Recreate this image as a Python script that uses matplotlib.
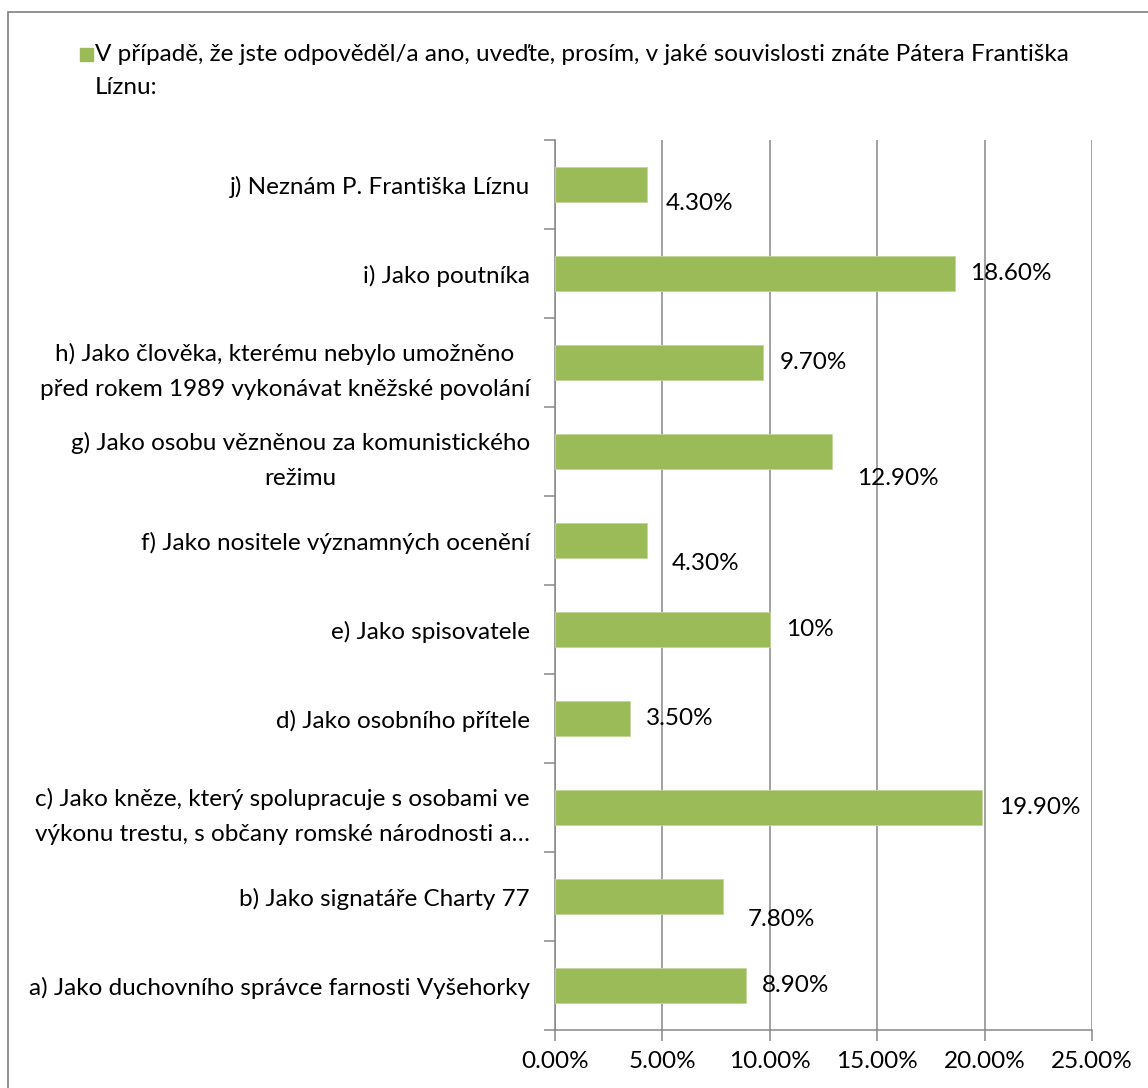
import matplotlib
matplotlib.use('Agg')
import matplotlib.pyplot as plt
from matplotlib.patches import Rectangle
from matplotlib.ticker import FuncFormatter, FixedLocator

plt.rcParams['font.family'] = ['Lato', 'DejaVu Sans']

# answers, bottom (a) to top (j)
categories = [
    'a) Jako duchovního správce farnosti Vyšehorky',
    'b) Jako signatáře Charty 77',
    'c) Jako kněze, který spolupracuje s osobami ve\nvýkonu trestu, s občany romské národnosti a…',
    'd) Jako osobního přítele',
    'e) Jako spisovatele',
    'f) Jako nositele významných ocenění',
    'g) Jako osobu vězněnou za komunistického\nrežimu',
    'h) Jako člověka, kterému nebylo umožněno\npřed rokem 1989 vykonávat kněžské povolání',
    'i) Jako poutníka',
    'j) Neznám P. Františka Líznu',
]
shares = [8.9, 7.8, 19.9, 3.5, 10.0, 4.3, 12.9, 9.7, 18.6, 4.3]
share_labels = ['8.90%', '7.80%', '19.90%', '3.50%', '10%',
                '4.30%', '12.90%', '9.70%', '18.60%', '4.30%']
legend_text = ('V případě, že jste odpověděl/a ano, uveďte, prosím, v jaké souvislosti znáte Pátera Františka\n'
               'Líznu:')

# pixel nudges of the data labels (Excel placed some of them lower)
label_nudge = [(16, 0), (25, -23), (17, 0), (16, 0), (16, 0),
               (24, -23), (25, -27), (16, 0), (16, 0), (18, -19)]

GREEN = '#9BBB59'
GRID = '#888888'
FS = 17.5

fig = plt.figure(figsize=(11.48, 10.88), dpi=100)
ax = fig.add_axes([555 / 1148, 1 - 1030 / 1088, 537 / 1148, 890 / 1088])

pos = list(range(len(categories)))
ax.barh(pos, shares, height=0.4, color=GREEN, edgecolor='#C3D69B', linewidth=0.6, zorder=3)

for p, v, txt, (dx, dy) in zip(pos, shares, share_labels, label_nudge):
    ax.annotate(txt, (v, p), xytext=(dx, dy), textcoords='offset pixels',
                ha='left', va='center', fontsize=FS, color='black', zorder=4)

ax.set_xlim(0, 25)
ax.set_ylim(-0.5, len(categories) - 0.5)
ax.set_xticks([0, 5, 10, 15, 20, 25])
ax.xaxis.set_major_formatter(FuncFormatter(lambda x, _: f'{x:.2f}%'))
ax.grid(axis='x', color=GRID, linewidth=1.1, zorder=0)

ax.set_yticks(pos)
ax.set_yticklabels(categories, fontsize=FS, multialignment='center', linespacing=1.85)
ax.yaxis.set_minor_locator(FixedLocator([p - 0.5 for p in pos] + [len(pos) - 0.5]))
ax.tick_params(axis='y', which='major', length=0, pad=18)
ax.tick_params(axis='y', which='minor', length=8, color=GRID, width=1.1)
ax.tick_params(axis='x', length=8, color=GRID, width=1.1, labelsize=FS, pad=7)

for side in ['top', 'right']:
    ax.spines[side].set_visible(False)
for side in ['left', 'bottom']:
    ax.spines[side].set_color(GRID)
    ax.spines[side].set_linewidth(1.1)

# legend: square marker and wrapped text
fig.patches.append(Rectangle((80 / 1148, 1 - 61 / 1088), 13 / 1148, 13 / 1088,
                             transform=fig.transFigure, color=GREEN))
fig.text(95 / 1148, 1 - 44 / 1088, legend_text, fontsize=FS, ha='left', va='top',
         linespacing=1.7)

# chart border
fig.patches.append(Rectangle((8 / 1148, -0.1), 1.2, 1 - 12 / 1088 + 0.1,
                             transform=fig.transFigure, fill=False,
                             edgecolor='#7F7F7F', linewidth=1.2))

fig.savefig('out.png', dpi=100)
